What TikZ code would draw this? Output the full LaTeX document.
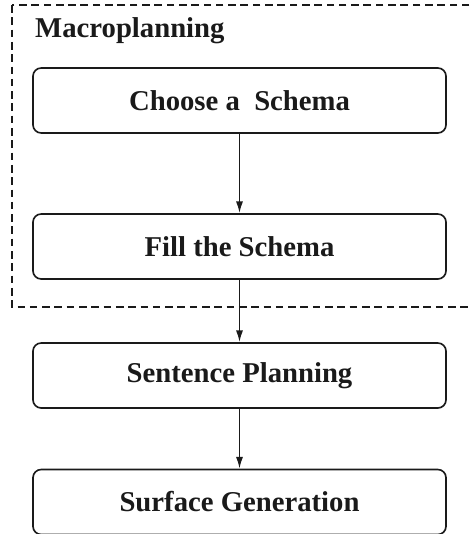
\documentclass[tikz,border=0pt]{standalone}
\usepackage{fontspec}
\setmainfont{Liberation Serif}
\usetikzlibrary{arrows.meta}
\definecolor{ink}{HTML}{1A1A1A}
\tikzset{
  stage/.style={draw=ink, line width=1.4pt, rounded corners=7pt, minimum width=12.39cm,
    minimum height=1.95cm, inner sep=0pt, text=ink, font=\fontsize{24.5}{29}\selectfont\bfseries},
  frame/.style={draw=ink, line width=1.2pt, dash pattern=on 6.5pt off 4pt},
  flow/.style={draw=ink, line width=1.3pt, -{Latex[length=10pt,width=6pt]}},
  title/.style={inner sep=0pt, text=ink, font=\fontsize{24.5}{29}\selectfont\bfseries},
}
\begin{document}
\begin{tikzpicture}[x=0.03cm,y=-0.03cm]
  \useasboundingbox (0,0) rectangle (470,534);
  % macroplanning group
  \draw[frame] (12,5) rectangle (480,307);
  \node[title,anchor=base west] (macro) at (35,38) {Macroplanning};
  \node[stage] (choose) at (239.5,100.5) {Choose a\ \ Schema};
  \node[stage] (fill) at (239.5,246.5) {Fill the Schema};
  % rest of the pipeline
  \node[stage] (sent) at (239.5,375.5) {Sentence Planning};
  \node[stage] (surf) at (239.5,502) {Surface Generation};
  \draw[flow] (choose) -- (fill);
  \draw[flow] (fill) -- (sent);
  \draw[flow] (sent) -- (surf);
\end{tikzpicture}
\end{document}
